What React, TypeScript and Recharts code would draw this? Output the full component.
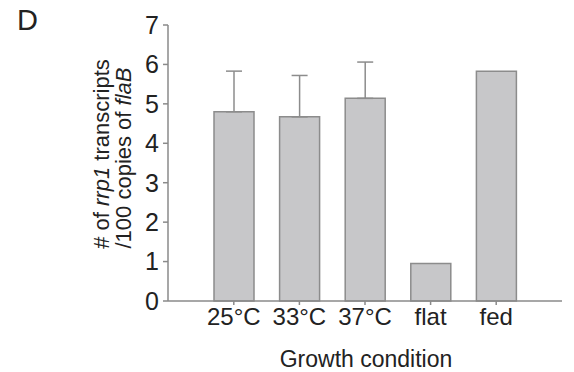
import { Bar, BarChart, ErrorBar, XAxis, YAxis } from "recharts";

const categories = ["25°C", "33°C", "37°C", "flat", "fed"];
const means = [4.8, 4.67, 5.14, 0.95, 5.83];
const errorsUp: (number | null)[] = [1.03, 1.05, 0.92, null, null];
const yTicks = [0, 1, 2, 3, 4, 5, 6, 7];

const data = categories.map((name, i) => ({
  name,
  value: means[i],
  err: errorsUp[i] == null ? null : [0, errorsUp[i] as number],
}));

const axisColor = "#8a8a8a";
const textColor = "#222";
const font = "'Liberation Sans', Arial, sans-serif";

function YLabel() {
  return (
    <g fill={textColor} fontFamily={font} fontSize={22}>
      <text x={109} y={154} textAnchor="middle" transform="rotate(-90, 109, 154)">
        # of <tspan fontStyle="italic">rrp1</tspan> transcripts
      </text>
      <text x={131} y={158} textAnchor="middle" transform="rotate(-90, 131, 158)">
        /100 copies of <tspan fontStyle="italic">flaB</tspan>
      </text>
    </g>
  );
}

function XLabel() {
  return (
    <text x={366} y={367} textAnchor="middle" fill={textColor} fontFamily={font} fontSize={23}>
      Growth condition
    </text>
  );
}

export default function App() {
  return (
    <div style={{ position: "absolute", left: 0, top: 0, width: 574, height: 372, background: "#fff" }}>
      <div
        style={{
          position: "absolute",
          left: 17,
          top: 4,
          fontFamily: font,
          fontSize: 29,
          color: textColor,
        }}
      >
        D
      </div>
      <BarChart
        width={574}
        height={372}
        data={data}
        margin={{ top: 25, right: 12, left: 0, bottom: 21 }}
      >
        <XAxis
          dataKey="name"
          height={50}
          padding={{ left: 33, right: 33 }}
          stroke={axisColor}
          strokeWidth={1.5}
          tickSize={4}
          tickMargin={3}
          tick={{ fill: textColor, fontSize: 24, fontFamily: font }}
          label={{ content: () => <XLabel /> }}
        />
        <XAxis
          xAxisId="top"
          dataKey="name"
          orientation="top"
          height={0}
          tick={false}
          tickLine={false}
          stroke={axisColor}
          strokeWidth={1.5}
        />
        <YAxis
          width={168}
          domain={[0, 7]}
          ticks={yTicks}
          interval={0}
          stroke={axisColor}
          strokeWidth={1.5}
          tickSize={5}
          tickMargin={4}
          tick={{ fill: textColor, fontSize: 25, fontFamily: font }}
          label={{ content: () => <YLabel /> }}
        />
        <YAxis
          yAxisId="right"
          orientation="right"
          width={0}
          domain={[0, 7]}
          tick={false}
          tickLine={false}
          stroke={axisColor}
          strokeWidth={1.5}
        />
        <Bar
          dataKey="value"
          barSize={40}
          fill="#c7c7c9"
          stroke="#8c8c8c"
          strokeWidth={1.5}
          isAnimationActive={false}
        >
          <ErrorBar dataKey="err" direction="y" width={8} stroke="#8c8c8c" strokeWidth={1.5} />
        </Bar>
      </BarChart>
    </div>
  );
}
